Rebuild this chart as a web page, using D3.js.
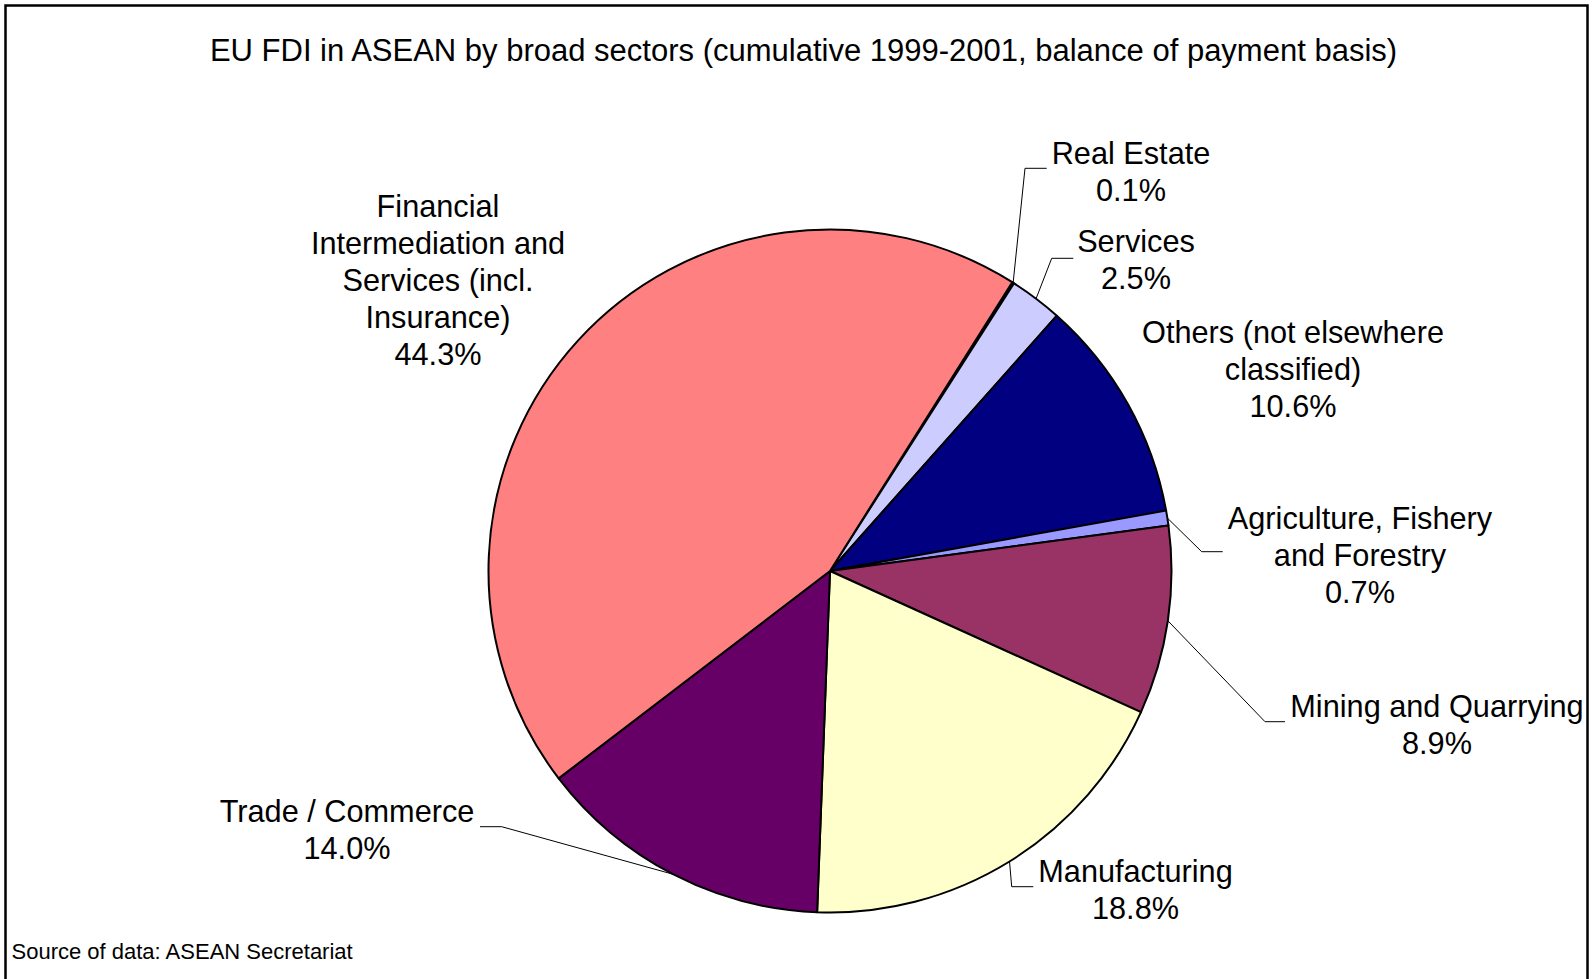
<!DOCTYPE html>
<html>
<head>
<meta charset="utf-8">
<script src="https://cdn.jsdelivr.net/npm/d3@7"></script>
<style>
  body { margin: 0; background: #fff; }
  text { font-family: "Liberation Sans", Arial, sans-serif; fill: #000; }
</style>
</head>
<body>
<script>
// data, in the order the slices run clockwise
var sectors = ["Real Estate", "Services", "Others (not elsewhere classified)",
  "Agriculture, Fishery and Forestry", "Mining and Quarrying", "Manufacturing",
  "Trade / Commerce", "Financial Intermediation and Services (incl. Insurance)"];
var shares = [0.1, 2.5, 10.6, 0.7, 8.9, 18.8, 14.0, 44.3];
var colors = ["#0066CC", "#CCCCFF", "#000080", "#9999FF", "#993366", "#FFFFCC", "#660066", "#FF8080"];
var labelLines = [
  ["Real Estate"], ["Services"], ["Others (not elsewhere", "classified)"],
  ["Agriculture, Fishery", "and Forestry"], ["Mining and Quarrying"], ["Manufacturing"],
  ["Trade / Commerce"], ["Financial", "Intermediation and", "Services (incl.", "Insurance)"]
];

// layout: label centre x / first baseline, leader elbow and end
var labelAt = [[1131, 163.5], [1136, 252], [1293, 343], [1360, 528.5],
  [1437, 717], [1135.5, 882], [347, 822], [438, 217]];
var leaders = [[1025, 168.3, 1046.7], [1051.7, 258.3, 1073.3], null, [1201.7, 551.7, 1222.7],
  [1265, 721.7, 1285], [1011.7, 886.7, 1033.3], [501.7, 826.7, 480], null];

var W = 1593, H = 979,
    cx = 830, cy = 571, r = 341.5,
    lineGap = 37,
    fontSize = "30.7px";

var svg = d3.select("body").append("svg")
    .attr("width", W)
    .attr("height", H);

svg.append("rect")
    .attr("x", 5.5).attr("y", 5.5)
    .attr("width", 1582).attr("height", 1000)
    .attr("fill", "#fff")
    .attr("stroke", "#000")
    .attr("stroke-width", 2.5);

svg.append("text")
    .attr("x", 803.5).attr("y", 61)
    .attr("text-anchor", "middle")
    .style("font-size", "31px")
    .text("EU FDI in ASEAN by broad sectors (cumulative 1999-2001, balance of payment basis)");

svg.append("text")
    .attr("x", 11.5).attr("y", 958.5)
    .style("font-size", "22px")
    .text("Source of data: ASEAN Secretariat");

var start = 32.25 * Math.PI / 180;
var pie = d3.pie().sort(null).value(function(d) { return d; })
    .startAngle(start).endAngle(start + 2 * Math.PI);
var arcs = pie(shares);

var arc = d3.arc().innerRadius(0).outerRadius(r);
var rim = d3.arc().innerRadius(r).outerRadius(r);

var g = svg.append("g").attr("transform", "translate(" + cx + "," + cy + ")");

g.selectAll("path.slice")
    .data(arcs)
  .enter().append("path")
    .attr("class", "slice")
    .attr("d", arc)
    .attr("fill", function(d, i) { return colors[i]; })
    .attr("stroke", "#000")
    .attr("stroke-width", 2)
    .attr("stroke-linejoin", "round");

// leader lines from the rim at mid angle
arcs.forEach(function(d, i) {
  var L = leaders[i];
  if (!L) return;
  var p = rim.centroid(d);
  svg.append("polyline")
      .attr("points", [[cx + p[0], cy + p[1]], [L[0], L[1]], [L[2], L[1]]].join(" "))
      .attr("fill", "none")
      .attr("stroke", "#000")
      .attr("stroke-width", 1);
});

// labels
arcs.forEach(function(d, i) {
  var t = svg.append("text")
      .attr("text-anchor", "middle")
      .style("font-size", fontSize);
  var lines = labelLines[i].concat([d3.format(".1f")(shares[i]) + "%"]);
  lines.forEach(function(s, k) {
    t.append("tspan")
        .attr("x", labelAt[i][0])
        .attr("y", labelAt[i][1] + k * lineGap)
        .text(s);
  });
});
</script>
</body>
</html>
